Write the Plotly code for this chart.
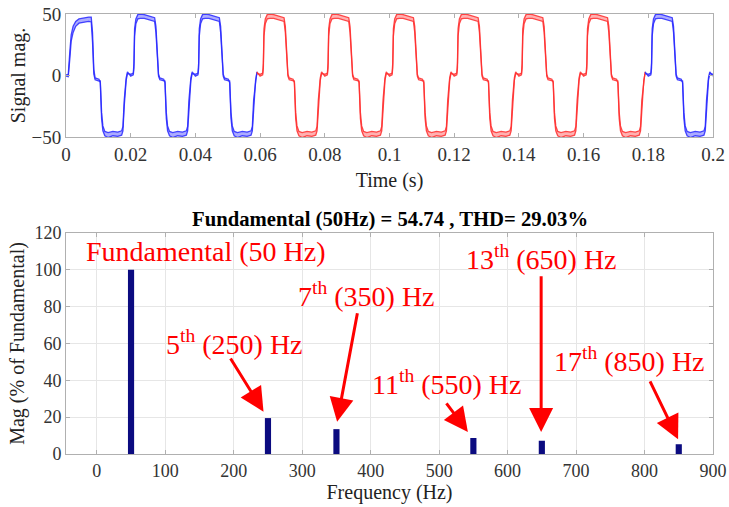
import plotly.graph_objects as go

# ---------------- time-domain signal (one 50 Hz cycle, outer/inner edge of the trace band)
PERIOD = 0.02
N_CYCLES = 10
cycle_offset = [0.0000, 0.0008, 0.0010, 0.0012, 0.0016, 0.0022, 0.0030, 0.0042, 0.0055,
                0.0068, 0.0074, 0.0078, 0.0082, 0.0086, 0.0090, 0.0102, 0.0106, 0.0110,
                0.0114, 0.0120, 0.0130, 0.0145, 0.0160, 0.0172, 0.0176, 0.0180, 0.0186, 0.0190]
cycle_outer = [1, 2, 10, 38, 46, 49.5, 50, 49.5, 48.5,
               48, 47, 40, 15, 1, -2, -3, -6, -35,
               -45, -49, -50.5, -49, -49.5, -48.5, -45, -25, -4, 1.5]
cycle_inner = [-0.5, 0.5, 6, 32, 42, 46, 46.5, 46.5, 45.5,
               45, 44, 35, 10, -0.5, -3.5, -4.5, -4.5, -30,
               -41, -45.5, -46.5, -45.5, -46, -45, -41.5, -20, -2, 3]

# start-up half cycle (slower rise to a lower plateau)
start_offset = [0.0000, 0.0007, 0.0012, 0.0016, 0.0022, 0.0030, 0.0040, 0.0055, 0.0070, 0.0078, 0.0082, 0.0086]
start_outer = [0.5, 1, 20, 33, 40, 44, 46, 47, 47.5, 47.5, 35, 5]
start_inner = [-0.5, -1, 14, 28, 35, 40, 42.5, 43.5, 44, 43.5, 27, 1]

# colour changes of the trace (s)
red_start, red_end = 0.059, 0.179

# ---------------- harmonic spectrum
harm_order = ["Fundamental", "5", "7", "11", "13", "17"]
harm_freq = [50, 250, 350, 550, 650, 850]
harm_mag = [100, 19.5, 13.5, 8.7, 7.2, 5.3]
fund_value = 54.74
thd_value = 29.03

time_ticks = [0, 0.02, 0.04, 0.06, 0.08, 0.1, 0.12, 0.14, 0.16, 0.18, 0.2]
time_ticktext = ["0", "0.02", "0.04", "0.06", "0.08", "0.1", "0.12", "0.14", "0.16", "0.18", "0.2"]
sig_ticks = [-50, 0, 50]
freq_ticks = [0, 100, 200, 300, 400, 500, 600, 700, 800, 900]
mag_ticks = [0, 20, 40, 60, 80, 100, 120]

# ---------------- build the sampled trace
t_all, outer_all, inner_all = [], [], []
for k in range(N_CYCLES):
    t0 = PERIOD * k
    if k == 0:
        for o, a, b in zip(start_offset, start_outer, start_inner):
            t_all.append(round(t0 + o, 6)); outer_all.append(a); inner_all.append(b)
        first = start_offset[-1]
        pts = [(o, a, b) for o, a, b in zip(cycle_offset, cycle_outer, cycle_inner) if o > first]
    else:
        pts = list(zip(cycle_offset, cycle_outer, cycle_inner))
    for o, a, b in pts:
        t_all.append(round(t0 + o, 6)); outer_all.append(a); inner_all.append(b)
t_all.append(round(PERIOD * N_CYCLES, 6)); outer_all.append(cycle_outer[0]); inner_all.append(cycle_inner[0])

SERIF = "Liberation Serif"
BLUE_LINE, BLUE_FILL = "rgba(40,40,255,0.85)", "rgba(90,90,255,0.5)"
RED_LINE, RED_FILL = "rgba(255,45,45,0.85)", "rgba(255,100,100,0.5)"

fig = go.Figure()


def add_band(lo, hi, line_c, fill_c):
    idx = [i for i, t in enumerate(t_all) if lo - 1e-9 <= t <= hi + 1e-9]
    ts = [t_all[i] for i in idx]
    fig.add_trace(go.Scatter(x=ts, y=[outer_all[i] for i in idx], mode="lines",
                             line=dict(color=line_c, width=1.3), xaxis="x", yaxis="y",
                             hoverinfo="skip", showlegend=False))
    fig.add_trace(go.Scatter(x=ts, y=[inner_all[i] for i in idx], mode="lines",
                             line=dict(color=line_c, width=1.3), fill="tonexty",
                             fillcolor=fill_c, xaxis="x", yaxis="y",
                             hoverinfo="skip", showlegend=False))


add_band(0, red_start, BLUE_LINE, BLUE_FILL)
add_band(red_start, red_end, RED_LINE, RED_FILL)
add_band(red_end, PERIOD * N_CYCLES, BLUE_LINE, BLUE_FILL)

# spectrum bars
fig.add_trace(go.Bar(x=harm_freq, y=harm_mag, width=9, marker=dict(color="#0b0b80", line=dict(width=0)),
                     xaxis="x2", yaxis="y2", showlegend=False))

# ---------------- harmonic labels and arrows
label_x = [159.5, 201.5, 394.6, 511.6, 649, 777.8]
label_y = [109.8, 60.3, 86.4, 38.6, 106.5, 51.1]
tail_x = [194, 381, 509, 649, 807]
tail_y = [52.7, 77.2, 28.3, 97.3, 40.2]
tip_x = [243.5, 351, 542, 649, 849]
tip_y = [23, 17.5, 12, 12, 8]

annotations = []
for i, (order, f) in enumerate(zip(harm_order, harm_freq)):
    if i == 0:
        txt = f"{order} ({f} Hz)"
    else:
        txt = f"{order}<sup>th</sup> ({f}) Hz"
    annotations.append(dict(x=label_x[i], y=label_y[i], xref="x2", yref="y2", text=txt,
                            showarrow=False, xanchor="center", yanchor="middle",
                            font=dict(family=SERIF, size=28, color="#ff0000")))
for tx, ty, hx, hy in zip(tail_x, tail_y, tip_x, tip_y):
    annotations.append(dict(x=hx, y=hy, xref="x2", yref="y2", ax=tx, ay=ty,
                            axref="x2", ayref="y2", text="", showarrow=True,
                            arrowhead=2, arrowsize=1.6, arrowwidth=3, arrowcolor="#ff0000",
                            standoff=0))

annotations.append(dict(x=0.5, y=0.534, xref="paper", yref="paper",
                        text=f"<b>Fundamental (50Hz) = {fund_value:.2f} , THD= {thd_value:.2f}%</b>",
                        showarrow=False, xanchor="center", yanchor="middle",
                        font=dict(family=SERIF, size=20.7, color="#000000")))

FRAME = "#b0b0b0"
TICKFONT = dict(family=SERIF, size=19, color="#333333")
TITLEFONT = dict(family=SERIF, size=20, color="#222222")

common = dict(ticks="inside", ticklen=4, tickcolor=FRAME, showline=True, linecolor=FRAME,
              linewidth=1, mirror="ticks", zeroline=False, automargin=False)

fig.update_layout(
    width=729, height=507,
    margin=dict(l=66, r=16, t=14, b=53, autoexpand=False),
    paper_bgcolor="white", plot_bgcolor="white",
    showlegend=False,
    xaxis=dict(domain=[0, 1], anchor="y", range=[0, 0.2], tickvals=time_ticks, ticktext=time_ticktext,
               showgrid=False, tickfont=TICKFONT,
               title=dict(text="Time (s)", font=TITLEFONT, standoff=9), **common),
    yaxis=dict(domain=[0.7205, 1], anchor="x", range=[-50, 50], tickvals=sig_ticks,
               showgrid=False, tickfont=TICKFONT,
               title=dict(text="Signal mag.", font=TITLEFONT, standoff=0), **common),
    xaxis2=dict(domain=[0, 1], anchor="y2", range=[-45, 900], tickvals=freq_ticks,
                showgrid=True, gridcolor="#e6e6e6",
                tickfont=dict(family=SERIF, size=18, color="#333333"),
                title=dict(text="Frequency (Hz)", font=TITLEFONT, standoff=5), **common),
    yaxis2=dict(domain=[0, 0.5023], anchor="x2", range=[0, 120], tickvals=mag_ticks,
                showgrid=True, gridcolor="#e6e6e6",
                tickfont=dict(family=SERIF, size=18, color="#333333"),
                title=dict(text="Mag (% of Fundamental)", font=TITLEFONT, standoff=4), **common),
    annotations=annotations,
)

fig.write_html("out.html")
